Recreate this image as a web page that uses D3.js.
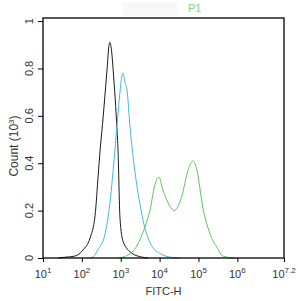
<!DOCTYPE html>
<html>
<head>
<meta charset="utf-8">
<script src="https://cdn.jsdelivr.net/npm/d3@7"></script>
<style>
  body { margin: 0; background: #fff; }
  svg { display: block; font-family: "Liberation Sans", Arial, sans-serif; }
</style>
</head>
<body>
<div id="chart"></div>
<script>
const width = 298,
  height = 301;
const margin = {top: 18, right: 14, bottom: 43, left: 43};

// log10(FITC-H) positions and counts (x10^3)
const blackLog = [1.40, 1.55, 1.82, 2.03, 2.21, 2.34, 2.42, 2.47, 2.55, 2.60, 2.65, 2.70, 2.72, 2.76, 2.82, 2.87, 2.90, 2.93, 2.98, 3.06, 3.29, 3.54, 3.70];
const blackCount = [0, 0.003, 0.008, 0.034, 0.084, 0.18, 0.35, 0.456, 0.60, 0.70, 0.80, 0.90, 0.91, 0.88, 0.76, 0.64, 0.55, 0.456, 0.17, 0.07, 0.02, 0.004, 0];

const cyanLog = [2.20, 2.29, 2.41, 2.59, 2.72, 2.85, 2.93, 2.98, 3.03, 3.06, 3.11, 3.16, 3.24, 3.33, 3.48, 3.60, 3.77, 4.00, 4.30, 4.50];
const cyanCount = [0, 0.005, 0.034, 0.097, 0.23, 0.456, 0.61, 0.70, 0.77, 0.78, 0.74, 0.71, 0.55, 0.41, 0.24, 0.14, 0.06, 0.02, 0.003, 0];

const greenLog = [2.95, 3.15, 3.35, 3.49, 3.62, 3.75, 3.88, 3.98, 4.08, 4.26, 4.37, 4.57, 4.73, 4.86, 4.96, 5.11, 5.29, 5.47, 5.63, 5.93];
const greenCount = [0, 0.01, 0.035, 0.076, 0.13, 0.20, 0.31, 0.342, 0.29, 0.22, 0.20, 0.26, 0.37, 0.41, 0.37, 0.215, 0.105, 0.046, 0.008, 0];

const xExp = [1, 2, 3, 4, 5, 6, 7.2];
const xExpLabels = ["1", "2", "3", "4", "5", "6", "7.2"];
const yTicks = [0, 0.2, 0.4, 0.6, 0.8, 1];
const yTickLabels = ["0", "0.2", "0.4", "0.6", "0.8", "1"];

const series = [
  {name: "control", xs: blackLog, ys: blackCount, color: "#1a1a1a"},
  {name: "isotype", xs: cyanLog, ys: cyanCount, color: "#42bbd8"},
  {name: "P1", xs: greenLog, ys: greenCount, color: "#5cc65c"}
];

const x = d3.scaleLog()
  .domain([10, Math.pow(10, 7.2)])
  .range([margin.left, width - margin.right]);
const y = d3.scaleLinear()
  .domain([0, 1.013])
  .range([height - margin.bottom, margin.top]);

const svg = d3.select("#chart")
  .append("svg")
  .attr("width", width)
  .attr("height", height)
  .attr("viewBox", [0, 0, width, height]);

// blurred sample name at the top
svg.append("rect")
  .attr("x", 122).attr("y", 2)
  .attr("width", 56).attr("height", 14)
  .attr("rx", 4)
  .attr("fill", "#f8f8f8");

svg.append("text")
  .attr("x", 188)
  .attr("y", 12)
  .attr("font-size", 11)
  .attr("fill", "#80d480")
  .text("P1");

//histogram lines
const line = d3.line()
  .x(d => x(Math.pow(10, d[0])))
  .y(d => y(d[1]))
  .curve(d3.curveMonotoneX);

svg.append("g")
  .selectAll("path")
  .data(series)
  .join("path")
  .attr("d", s => line(d3.zip(s.xs, s.ys)))
  .attr("fill", "none")
  .attr("stroke", s => s.color)
  .attr("stroke-width", 1);

// frame
svg.append("rect")
  .attr("x", margin.left)
  .attr("y", margin.top)
  .attr("width", width - margin.left - margin.right)
  .attr("height", height - margin.top - margin.bottom)
  .attr("fill", "none")
  .attr("stroke", "#000")
  .attr("stroke-width", 1.3);

// x axis minor ticks (2..9 each decade)
const minor = [];
for (let e = 1; e < 8; e++) {
  for (let k = 2; k <= 9; k++) {
    const v = k * Math.pow(10, e);
    if (v < Math.pow(10, 7.2)) minor.push(v);
  }
}
const xg = svg.append("g")
  .attr("transform", `translate(0,${height - margin.bottom})`);
xg.call(d3.axisBottom(x).tickValues(minor).tickSize(2).tickFormat(""));
xg.call(d3.axisBottom(x).tickValues(xExp.map(e => Math.pow(10, e))).tickSize(4).tickFormat(""));
xg.selectAll(".domain").remove();
xg.selectAll("line").attr("stroke", "#000");

const xl = svg.append("g")
  .selectAll("text")
  .data(xExp)
  .join("text")
  .attr("x", e => x(Math.pow(10, e)))
  .attr("y", height - margin.bottom + 20)
  .attr("text-anchor", "middle")
  .attr("font-size", 11)
  .attr("fill", "#333");
xl.append("tspan").text("10");
xl.append("tspan")
  .attr("dy", -5)
  .attr("font-size", 8)
  .text((e, i) => xExpLabels[i]);

// y axis
const yMinor = d3.range(0, 1.0001, 0.04);
const yg = svg.append("g")
  .attr("transform", `translate(${margin.left},0)`);
yg.call(d3.axisLeft(y).tickValues(yMinor).tickSize(3).tickFormat(""));
yg.call(d3.axisLeft(y).tickValues(yTicks).tickSize(5).tickFormat(""));
yg.selectAll(".domain").remove();
yg.selectAll("line").attr("stroke", "#000");

svg.append("g")
  .selectAll("text")
  .data(yTicks)
  .join("text")
  .attr("transform", d => `translate(${margin.left - 10},${y(d)}) rotate(-90)`)
  .attr("text-anchor", "middle")
  .attr("font-size", 11)
  .attr("fill", "#333")
  .text((d, i) => yTickLabels[i]);

// axis titles
const yt = svg.append("text")
  .attr("transform", `translate(18,146) rotate(-90)`)
  .attr("text-anchor", "middle")
  .attr("font-size", 12)
  .attr("fill", "#333");
yt.append("tspan").text("Count  (10");
yt.append("tspan").attr("dy", -4).attr("font-size", 8).text("3");
yt.append("tspan").attr("dy", 4).text(")");

svg.append("text")
  .attr("x", (margin.left + width - margin.right) / 2)
  .attr("y", 295)
  .attr("text-anchor", "middle")
  .attr("font-size", 11)
  .attr("fill", "#333")
  .text("FITC-H");
</script>
</body>
</html>
